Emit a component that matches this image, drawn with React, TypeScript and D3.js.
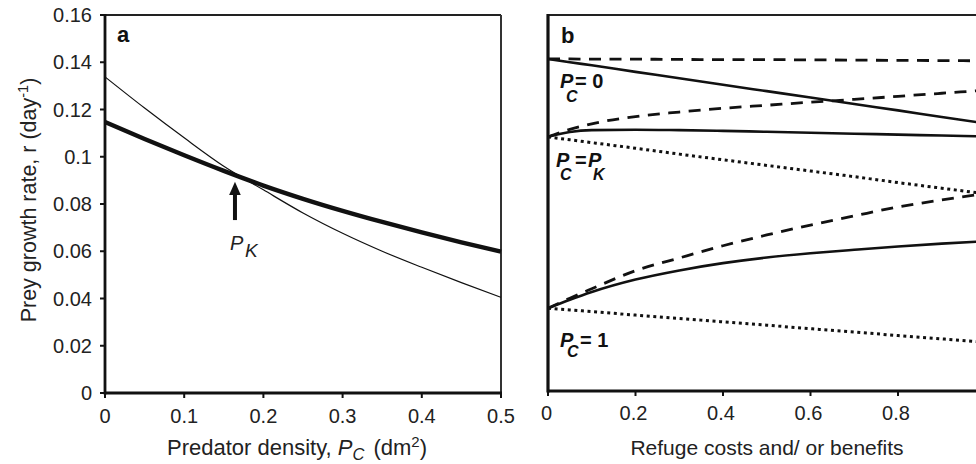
import React from 'react';
import * as d3 from 'd3';

// panel a: prey growth rate vs predator density
const predatorDensity = [0, 0.05, 0.1, 0.15, 0.2, 0.25, 0.3, 0.35, 0.4, 0.45, 0.5];
const rThick = [0.1147, 0.1075, 0.1006, 0.094, 0.0878, 0.0822, 0.0771, 0.0724, 0.068, 0.0638, 0.0598];
const rThin = [0.1338, 0.1206, 0.108, 0.096, 0.086, 0.0762, 0.0676, 0.06, 0.0532, 0.0467, 0.0405];
const aXTicks = [0, 0.1, 0.2, 0.3, 0.4, 0.5];
const aXTickLabels = ['0', '0.1', '0.2', '0.3', '0.4', '0.5'];
const aYTicks = [0, 0.02, 0.04, 0.06, 0.08, 0.1, 0.12, 0.14, 0.16];
const aYTickLabels = ['0', '0.02', '0.04', '0.06', '0.08', '0.1', '0.12', '0.14', '0.16'];
const pkArrow = { x: 0.1641, tip: 0.0894, headBase: 0.0838, tail: 0.0732 };

// panel b: growth rate vs refuge costs/benefits (right part is cut off in the figure)
const refuge = [0, 0.05, 0.1, 0.2, 0.3, 0.4, 0.5, 0.6, 0.7, 0.8, 0.9, 1.0];
const pc0Dashed = [0.1413, 0.1413, 0.1412, 0.1412, 0.1411, 0.141, 0.141, 0.1409, 0.1408, 0.1407, 0.1406, 0.1405];
const pc0Solid = [0.1413, 0.1399, 0.1386, 0.1358, 0.1331, 0.1303, 0.1276, 0.1249, 0.1221, 0.1194, 0.1166, 0.1139];
const pkDashed = [0.1081, 0.1113, 0.1137, 0.1168, 0.1187, 0.1203, 0.1216, 0.1229, 0.1241, 0.1254, 0.1267, 0.128];
const pkSolid = [0.1082, 0.1102, 0.111, 0.1112, 0.111, 0.1107, 0.1103, 0.1099, 0.1095, 0.1091, 0.1087, 0.1083];
const pkDotted = [0.1081, 0.1069, 0.1057, 0.1033, 0.1008, 0.0984, 0.096, 0.0936, 0.0912, 0.0887, 0.0863, 0.0839];
const pc1Dashed = [0.0352, 0.0395, 0.0435, 0.0512, 0.0566, 0.0618, 0.0664, 0.0706, 0.0745, 0.0783, 0.0813, 0.084];
const pc1Solid = [0.0352, 0.0388, 0.0421, 0.0474, 0.0513, 0.0544, 0.0568, 0.0586, 0.0601, 0.0615, 0.0627, 0.0637];
const pc1Dotted = [0.0352, 0.0345, 0.0338, 0.0323, 0.0309, 0.0294, 0.028, 0.0265, 0.0251, 0.0236, 0.0222, 0.0207];
const bXTicks = [0, 0.2, 0.4, 0.6, 0.8, 1];
const bXTickLabels = ['0', '0.2', '0.4', '0.6', '0.8'];

const FONT = '"Liberation Sans", Arial, Helvetica, sans-serif';

const aX = d3.scaleLinear().domain([0, 0.5]).range([105, 501]);
const aY = d3.scaleLinear().domain([0, 0.16]).range([393, 15]);
const bX = d3.scaleLinear().domain([0, 1]).range([548, 985.5]);
const bY = d3.scaleLinear().domain([0, 0.16]).range([391, 15]);

function path(xs: number[], ys: number[], sx: any, sy: any) {
  const line = d3.line<number>()
    .x((_, i) => sx(xs[i]))
    .y((d) => sy(d))
    .curve(d3.curveMonotoneX);
  return line(ys) || '';
}

const DASH = '12 8.5';
const DOT = '3 3.6';

export default function App() {
  const ax = aX(pkArrow.x);
  return (
    <svg width={976} height={464} style={{ position: 'absolute', left: 0, top: 0, background: '#fff' }}
      fontFamily={FONT}>
      {/* ---------- panel a ---------- */}
      <g>
        <line x1={aX(0)} x2={aX(0.5)} y1={aY(0.16)} y2={aY(0.16)} stroke="#222" strokeWidth={2} />
        <line x1={aX(0.5)} x2={aX(0.5)} y1={aY(0.16)} y2={aY(0)} stroke="#333" strokeWidth={2} />
        <line x1={aX(0)} x2={aX(0)} y1={aY(0.16) - 1} y2={aY(0) + 1.4} stroke="#111" strokeWidth={2.8} />
        <line x1={aX(0)} x2={aX(0.5) + 1} y1={aY(0)} y2={aY(0)} stroke="#111" strokeWidth={2.8} />
        {aYTicks.map((t, i) => (
          <g key={'ay' + i}>
            <line x1={aX(0) - 5} x2={aX(0)} y1={aY(t)} y2={aY(t)} stroke="#111" strokeWidth={2} />
            <text x={92} y={aY(t)} dy="0.35em" textAnchor="end" fontSize={20} fill="#222">{aYTickLabels[i]}</text>
          </g>
        ))}
        {aXTicks.map((t, i) => (
          <g key={'ax' + i}>
            <line x1={aX(t)} x2={aX(t)} y1={aY(0)} y2={aY(0) + 5} stroke="#111" strokeWidth={2} />
            <text x={aX(t)} y={423} textAnchor="middle" fontSize={20} fill="#222">{aXTickLabels[i]}</text>
          </g>
        ))}
        <path d={path(predatorDensity, rThin, aX, aY)} fill="none" stroke="#111" strokeWidth={1.2} />
        <path d={path(predatorDensity, rThick, aX, aY)} fill="none" stroke="#111" strokeWidth={4.4} />
        {/* P_K arrow */}
        <line x1={ax} x2={ax} y1={aY(pkArrow.tail)} y2={aY(pkArrow.headBase) - 1} stroke="#111" strokeWidth={4} />
        <polygon points={`${ax},${aY(pkArrow.tip)} ${ax - 5.8},${aY(pkArrow.headBase)} ${ax + 5.8},${aY(pkArrow.headBase)}`} fill="#111" />
        <text x={ax - 5} y={250} fontSize={20} fontStyle="italic" fill="#222">
          P<tspan dx={1.7} dy={7} fontSize={19}>K</tspan>
        </text>
        <text x={117} y={42} fontSize={22} fontWeight="bold" fill="#111">a</text>
        <text transform="translate(36,200) rotate(-90)" textAnchor="middle" fontSize={21.5} fill="#222">
          Prey growth rate, r (day<tspan dy={-8} fontSize={14.5}>-1</tspan><tspan dy={8}>)</tspan>
        </text>
        <text x={297} y={455} textAnchor="middle" fontSize={22} fill="#222">
          Predator density, <tspan fontStyle="italic">P</tspan><tspan fontStyle="italic" fontSize={16.5} dy={5}>C</tspan><tspan dx={3} dy={-5}> (dm</tspan><tspan dy={-8} fontSize={15}>2</tspan><tspan dy={8}>)</tspan>
        </text>
      </g>

      {/* ---------- panel b ---------- */}
      <g>
        <line x1={bX(0)} x2={bX(1)} y1={bY(0.16)} y2={bY(0.16)} stroke="#222" strokeWidth={2.2} />
        <line x1={bX(0)} x2={bX(0)} y1={bY(0.16) - 1} y2={bY(0) + 1.5} stroke="#111" strokeWidth={3.2} />
        <line x1={bX(0)} x2={bX(1)} y1={bY(0)} y2={bY(0)} stroke="#111" strokeWidth={3} />
        {bXTicks.map((t, i) => (
          <g key={'bx' + i}>
            <line x1={bX(t)} x2={bX(t)} y1={bY(0)} y2={bY(0) + 5} stroke="#111" strokeWidth={2} />
            {bXTickLabels[i] !== undefined && (
              <text x={bX(t) - (i === 0 ? 1.5 : 2)} y={419.5} textAnchor="middle" fontSize={20} fill="#222">{bXTickLabels[i]}</text>
            )}
          </g>
        ))}
        <path d={path(refuge, pc0Dashed, bX, bY)} fill="none" stroke="#111" strokeWidth={2.8} strokeDasharray={DASH} />
        <path d={path(refuge, pc0Solid, bX, bY)} fill="none" stroke="#111" strokeWidth={2.6} />
        <path d={path(refuge, pkDashed, bX, bY)} fill="none" stroke="#111" strokeWidth={2.8} strokeDasharray={DASH} />
        <path d={path(refuge, pkSolid, bX, bY)} fill="none" stroke="#111" strokeWidth={2.6} />
        <path d={path(refuge, pkDotted, bX, bY)} fill="none" stroke="#111" strokeWidth={3} strokeDasharray={DOT} />
        <path d={path(refuge, pc1Dashed, bX, bY)} fill="none" stroke="#111" strokeWidth={2.8} strokeDasharray={DASH} />
        <path d={path(refuge, pc1Solid, bX, bY)} fill="none" stroke="#111" strokeWidth={2.6} />
        <path d={path(refuge, pc1Dotted, bX, bY)} fill="none" stroke="#111" strokeWidth={3} strokeDasharray={DOT} />

        <text x={561} y={43} fontSize={22} fontWeight="bold" fill="#111">b</text>

        <g fontWeight="bold" fill="#111" fontSize={20}>
          <text x={560} y={88}>
            <tspan fontStyle="italic">P</tspan>
            <tspan fontStyle="italic" fontSize={16} dx={-7.3} dy={14}>C</tspan>
            <tspan dx={-2.6} dy={-14}>= 0</tspan>
          </text>
          <text x={556} y={167}>
            <tspan fontStyle="italic">P</tspan>
            <tspan fontStyle="italic" fontSize={16} dx={-9.3} dy={13}>C</tspan>
            <tspan dx={3.4} dy={-13}>=</tspan>
            <tspan fontStyle="italic" dx={1.3}>P</tspan>
            <tspan fontStyle="italic" fontSize={16} dx={-8.3} dy={13}>K</tspan>
          </text>
          <text x={560} y={347}>
            <tspan fontStyle="italic">P</tspan>
            <tspan fontStyle="italic" fontSize={16} dx={-6.3} dy={10}>C</tspan>
            <tspan dx={1.4} dy={-10}>= 1</tspan>
          </text>
        </g>

        <text x={767} y={455} textAnchor="middle" fontSize={21} fill="#222">Refuge costs and/ or benefits</text>
      </g>
    </svg>
  );
}
